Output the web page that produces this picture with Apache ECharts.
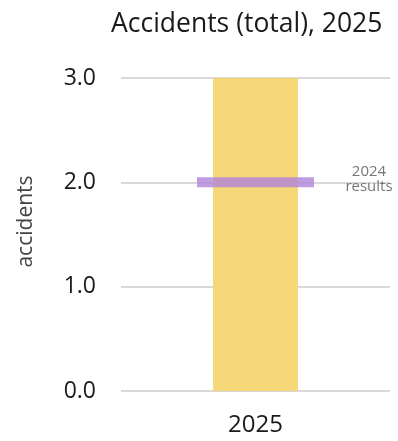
<!DOCTYPE html>
<html><head><meta charset="utf-8">
<script src="https://cdn.jsdelivr.net/npm/echarts@6/dist/echarts.min.js"></script>
<style>html,body{margin:0;padding:0;background:#fff}#c{width:398px;height:441px}</style>
</head><body><div id="c"></div>
<script>
const categories = ['2025'];
const values2025 = [3];
const results2024 = [2];
const yTicks = [0, 1, 2, 3];

const chart = echarts.init(document.getElementById('c'));
chart.setOption({
  animation: false,
  textStyle: { fontFamily: 'Open Sans' },
  title: {
    text: 'Accidents (total), 2025',
    left: 106, top: 6,
    textStyle: { fontFamily: 'Open Sans', fontSize: 26.5, fontWeight: 'normal', color: '#1a1a1a' }
  },
  grid: { left: 121, right: 8, top: 78, bottom: 50, containLabel: false, outerBoundsMode: 'none' },
  xAxis: {
    type: 'category', data: categories,
    axisLine: { show: false }, axisTick: { show: false },
    axisLabel: { fontSize: 24, color: '#1a1a1a', margin: 22 }
  },
  yAxis: {
    type: 'value', min: yTicks[0], max: yTicks[yTicks.length - 1], interval: 1,
    name: 'accidents', nameLocation: 'middle', nameGap: 84,
    nameTextStyle: { fontSize: 21, color: '#444', padding: [0, 0, 0, 26] },
    axisLabel: { fontSize: 23, color: '#1a1a1a', margin: 25, formatter: v => v.toFixed(1) },
    splitLine: { lineStyle: { color: '#d9d9d9', width: 2 } }
  },
  series: [
    {
      type: 'bar', data: values2025, barWidth: 85,
      itemStyle: { color: '#F6D878' }, z: 2
    },
    {
      type: 'scatter', data: results2024,
      symbol: 'rect', symbolSize: [117, 10],
      itemStyle: { color: '#B084D9' }, z: 3,
      label: {
        show: true, formatter: '2024\nresults',
        position: [172, 2], align: 'center', verticalAlign: 'middle',
        fontSize: 15, color: '#555', lineHeight: 15
      }
    }
  ]
});
</script></body></html>
